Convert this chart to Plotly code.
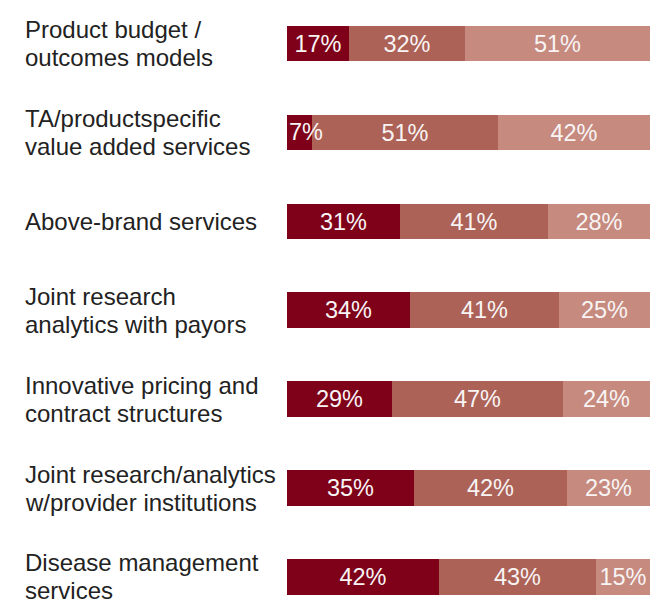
import plotly.graph_objects as go

categories = [
    "Product budget /<br>outcomes models",
    "TA/productspecific<br>value added services",
    "Above-brand services",
    "Joint research<br>analytics with payors",
    "Innovative pricing and<br>contract structures",
    "Joint research/analytics<br>w/provider institutions",
    "Disease management<br>services",
]
seg1 = [17, 7, 31, 34, 29, 35, 42]
seg2 = [32, 51, 41, 41, 47, 42, 43]
seg3 = [51, 42, 28, 25, 24, 23, 15]
colors = ["#7E0019", "#AC6257", "#C68A7F"]

W, H = 664, 605
ml, mr = 287, 14
pw = W - ml - mr
FONT = "Liberation Sans, Arial, Helvetica, sans-serif"
TXT = dict(family=FONT, size=23.5, color="#F8F4F4")

ypos = list(range(len(categories)))
fig = go.Figure()
for k, (vals, col) in enumerate(zip([seg1, seg2, seg3], colors)):
    fig.add_trace(go.Bar(
        x=vals, y=ypos, orientation="h", width=0.4,
        marker=dict(color=col, line=dict(width=0)),
        text=[f"{v}%" if (v >= 10 or k > 0) else "" for v in vals],
        textposition="inside", textangle=0,
        insidetextanchor="middle", constraintext="none", cliponaxis=False,
        textfont=TXT,
        hoverinfo="skip",
    ))

# small first segments: label starts at bar origin and overflows
for i, v in enumerate(seg1):
    if v < 10:
        fig.add_annotation(
            x=0, xref="x", y=i, yref="y", xshift=0,
            text=f"{v}%", showarrow=False, xanchor="left", yanchor="middle",
            font=TXT,
        )

for i, c in enumerate(categories):
    lines = c.split("<br>")
    n = len(lines)
    for j, ln in enumerate(lines):
        shift = ((n - 1) / 2 - j) * 28
        fig.add_annotation(
            x=(23 - ml) / pw, xref="paper", y=i, yref="y", yshift=shift,
            text=ln, showarrow=False, xanchor="left", yanchor="middle", align="left",
            font=dict(family=FONT, size=24, color="#222222"),
        )

fig.update_layout(
    barmode="stack", width=W, height=H,
    margin=dict(l=ml, r=mr, t=0, b=0),
    plot_bgcolor="white", paper_bgcolor="white",
    showlegend=False, bargap=0,
    xaxis=dict(range=[0, 100], visible=False, fixedrange=True),
    yaxis=dict(range=[6.315, -0.489], visible=False, fixedrange=True),
)
fig.write_html("out.html")
